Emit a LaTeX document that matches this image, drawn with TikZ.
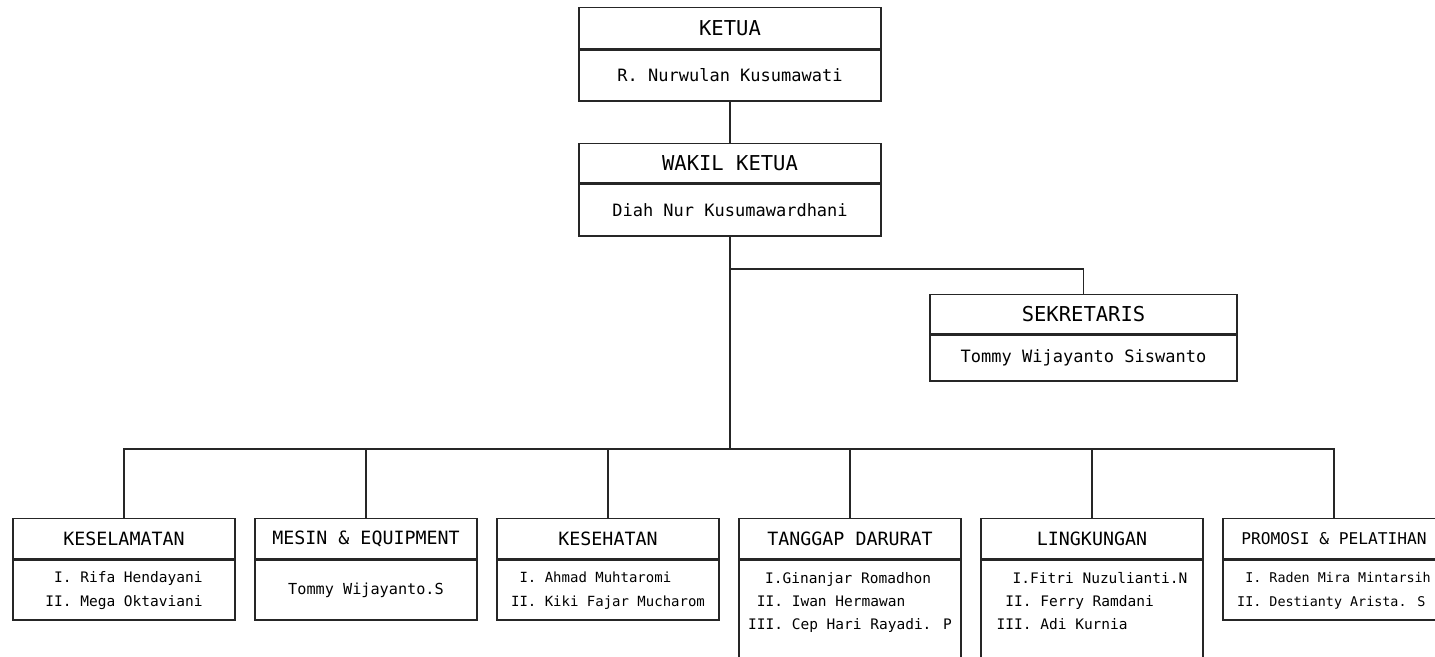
\documentclass[tikz,border=0pt]{standalone}
\usepackage{fontspec}
\usetikzlibrary{positioning}
\newfontfamily\orgfont{DejaVu Sans Mono}
\def\unitw{222pt}
\def\colsep{242}

\begin{document}
\begin{tikzpicture}[x=1pt,y=-1pt,line width=1.3pt,draw=black!85]
    \tikzstyle{head}=[draw,rectangle,inner sep=0pt,anchor=north,font=\orgfont\fontsize{20.5}{24}\selectfont]
    \tikzstyle{body}=[draw,rectangle,inner sep=0pt,font=\orgfont\fontsize{17}{24}\selectfont]
    \tikzstyle{unit head}=[head,minimum width=\unitw,minimum height=40pt,font=\orgfont\fontsize{18.3}{24}\selectfont]
    \tikzstyle{unit body}=[body,minimum width=\unitw,minimum height=60pt,font=\orgfont\fontsize{14.5}{24}\selectfont]
    \tikzstyle{long body}=[unit body,minimum height=0pt,text height=24pt,text depth=83pt,font=\orgfont\fontsize{14.5}{23}\selectfont]

    \useasboundingbox (0,0) rectangle (1435,656);
    \clip (0,0) rectangle (1435,656);

    % Draw the top boxes
    \node[head,minimum width=302pt,minimum height=41pt] (K-T) at (730,7) {KETUA};
    \node[body,minimum width=302pt,minimum height=51pt,below=0pt of K-T] (K-N) {R. Nurwulan Kusumawati};

    \node[head,minimum width=302pt,minimum height=39pt] (W-T) at (730,143) {WAKIL KETUA};
    \node[body,minimum width=302pt,minimum height=52pt,below=0pt of W-T] (W-N) {Diah Nur Kusumawardhani};

    \node[head,minimum width=307pt,minimum height=39pt] (S-T) at (1083.5,294) {SEKRETARIS};
    \node[body,minimum width=307pt,minimum height=46pt,below=0pt of S-T] (S-N) {Tommy Wijayanto Siswanto};

    % Draw the unit heads, one per column
    \foreach \i / \title in {1/KESELAMATAN,2/MESIN \& EQUIPMENT,3/KESEHATAN,4/TANGGAP DARURAT,5/LINGKUNGAN}
        \node[unit head] (B\i-T) at ({124+(\i-1)*\colsep},518) {\title};
    \node[unit head,font=\orgfont\fontsize{16.2}{24}\selectfont] (B6-T) at ({124+5*\colsep},518) {PROMOSI \& PELATIHAN};

    % Draw the unit members
    \node[unit body,below=0pt of B1-T] (B1-N) {\begin{tabular}{@{}r@{\ }l@{}}I. & Rifa Hendayani\\ II. & Mega Oktaviani\end{tabular}};
    \node[unit body,below=0pt of B2-T,font=\orgfont\fontsize{15.2}{24}\selectfont] (B2-N) {Tommy Wijayanto.S};
    \node[unit body,below=0pt of B3-T,font=\orgfont\fontsize{14}{24}\selectfont] (B3-N) {\begin{tabular}{@{}r@{\ }l@{}}I. & Ahmad Muhtaromi\\ II. & Kiki Fajar Mucharom\end{tabular}};
    \node[long body,below=0pt of B4-T] (B4-N) {\begin{tabular}[t]{@{}r@{\ }l@{}}\multicolumn{2}{@{}l@{}}{\hspace*{17pt}I.Ginanjar Romadhon}\\ II. & Iwan Hermawan\\ III. & Cep Hari Rayadi. P\end{tabular}};
    \node[long body,below=0pt of B5-T] (B5-N) {\begin{tabular}[t]{@{}r@{\ }l@{}}\multicolumn{2}{@{}l@{}}{\hspace*{16pt}I.Fitri Nuzulianti.N}\\ II. & Ferry Ramdani\\ III. & Adi Kurnia\end{tabular}};
    \node[unit body,below=0pt of B6-T,font=\orgfont\fontsize{13.4}{24}\selectfont] (B6-N) {\begin{tabular}{@{}r@{\ }l@{}}I. & Raden Mira Mintarsih\\ II. & Destianty Arista. S\end{tabular}};

    % Connect the chairman with the vice chairman
    \draw (K-N.south) -- (W-T.north);

    % Branch points under the vice chairman
    \coordinate (sek) at (730,269);
    \coordinate (hub) at (730,449);
    \draw (W-N.south) -- (hub);
    \draw (sek) -| (S-T.north);

    % Connect the hub with every unit
    \foreach \i in {1,...,6}
        \draw (hub) -| (B\i-T.north);
\end{tikzpicture}
\end{document}
